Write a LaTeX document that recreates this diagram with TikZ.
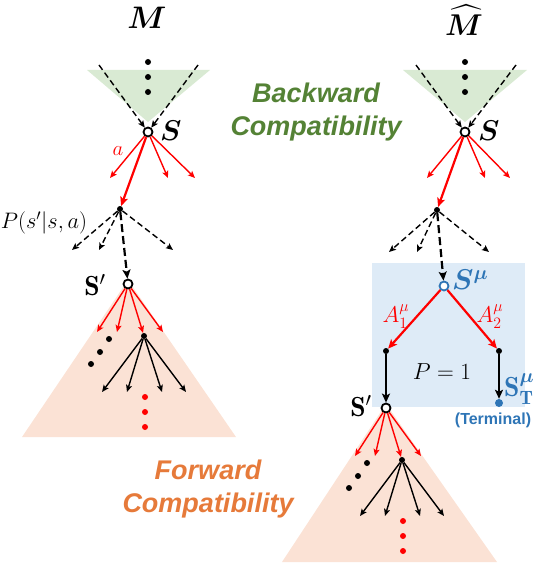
\documentclass[tikz,border=0pt]{standalone}
\usepackage{amsmath,bm}
\usepackage{fontspec}
\setsansfont{Liberation Sans}
\usetikzlibrary{arrows.meta}
\definecolor{bgreen}{RGB}{217,234,211}
\definecolor{tgreen}{RGB}{84,130,53}
\definecolor{forange}{RGB}{251,226,213}
\definecolor{torange}{RGB}{230,122,58}
\definecolor{bblue}{RGB}{222,235,247}
\definecolor{tblue}{RGB}{46,117,182}
\newcommand{\bigtxt}[1]{\scalebox{1.38}{#1}}
\newcommand{\midtxt}[2]{\scalebox{#1}{#2}}
\newcommand{\fwdtree}[1]{%
  \coordinate (#1f1) at (-31,48);
  \coordinate (#1f2) at (-11,48);
  \coordinate (#1f4) at (35,48);
  \node[bdot] (#1fd) at (16,52) {};
  \draw[ra] (#1Sp) -- (#1f1);
  \draw[ra] (#1Sp) -- (#1f2);
  \draw[ra] (#1Sp) -- (#1fd);
  \draw[ra] (#1Sp) -- (#1f4);
  \node[bdot] (#1e1) at (-19,55) {};
  \node[bdot] (#1e2) at (-28,68) {};
  \node[bdot] (#1e3) at (-37,80) {};
  \coordinate (#1g1) at (-26,108);
  \coordinate (#1g2) at (-1,108);
  \coordinate (#1g3) at (34,108);
  \coordinate (#1g4) at (58,108);
  \draw[ba] (#1fd) -- (#1g1);
  \draw[ba] (#1fd) -- (#1g2);
  \draw[ba] (#1fd) -- (#1g3);
  \draw[ba] (#1fd) -- (#1g4);
  \node[rdot] (#1r1) at (17,113) {};
  \node[rdot] (#1r2) at (17,128) {};
  \node[rdot] (#1r3) at (17,143) {};
}
\begin{document}
\begin{tikzpicture}[x=1pt,y=-1pt,
  state/.style={circle,draw=black,fill=white,line width=1.8pt,inner sep=0pt,minimum size=9pt},
  bdot/.style={circle,fill=black,inner sep=0pt,minimum size=6pt},
  rdot/.style={circle,fill=red,inner sep=0pt,minimum size=6pt},
  ra/.style={red,line width=1.4pt,-{Stealth[length=7pt,width=6pt,inset=1.5pt]}},
  rat/.style={red,line width=2.2pt,-{Stealth[length=9pt,width=8pt,inset=2pt]}},
  ba/.style={black,line width=1.4pt,-{Stealth[length=7pt,width=6pt,inset=1.5pt]}},
  bat/.style={black,line width=2.2pt,-{Stealth[length=9pt,width=8pt,inset=2pt]}},
  da/.style={black,line width=1.4pt,dash pattern=on 6pt off 3.5pt,-{Stealth[length=7pt,width=6pt,inset=1.5pt]}},
  dat/.style={black,line width=2.2pt,dash pattern=on 8pt off 4pt,-{Stealth[length=9pt,width=8pt,inset=2pt]}},
  big/.style={font=\fontsize{20}{24}\selectfont,inner sep=0pt},
  mid/.style={font=\fontsize{20}{24}\selectfont,inner sep=0pt},
  compat/.style={font=\fontsize{27}{33}\selectfont\sffamily\bfseries\itshape,align=center,inner sep=0pt}
]
\useasboundingbox (0,0) rectangle (540,564);
% backgrounds
\fill[bgreen] (87,70) -- (210,70) -- (148,122) -- cycle;
\fill[bgreen] (403,70) -- (527,70) -- (465,122) -- cycle;
\fill[bblue] (372,263) rectangle (525,407);
\fill[forange] (128,280) -- (236,437) -- (22,437) -- cycle;
\fill[forange] (386,404) -- (497,562) -- (282,562) -- cycle;

% ---------- left tree ----------
\node[big] (LM) at (147,18) {\scalebox{1.5}{$\bm{M}$}};
\node[bdot] (Lv1) at (148,62) {};
\node[bdot] (Lv2) at (148,77) {};
\node[bdot] (Lv3) at (148,92) {};
\node[state] (LS) at (148,132) {};
\node[big,anchor=west] (LSl) at (160,131) {\bigtxt{$\bm{S}$}};
\coordinate (Lt1) at (99,65);
\coordinate (Lt2) at (198,65);
\draw[da] (Lt1) -- (LS);
\draw[da] (Lt2) -- (LS);
\coordinate (La1) at (110,178);
\coordinate (La2) at (168,178);
\coordinate (La3) at (195,178);
\node[bdot] (LP) at (120,209) {};
\draw[ra] (LS) -- (La1);
\draw[ra] (LS) -- (La2);
\draw[ra] (LS) -- (La3);
\draw[rat] (LS) -- (LP);
\node[mid,text=red] (Lalab) at (118,151) {$a$};
\node[mid] (Lprob) at (44,223) {\midtxt{1.08}{$P(s'|s,a)$}};
\coordinate (Lb1) at (72,250);
\coordinate (Lb2) at (99,250);
\coordinate (Lb3) at (173,250);
\draw[da] (LP) -- (Lb1);
\draw[da] (LP) -- (Lb2);
\draw[da] (LP) -- (Lb3);
\node[state] (LSp) at (128,284) {};
\draw[dat] (LP) -- (LSp);
\node[big] (LSpl) at (95,285) {\bigtxt{$\mathbf{S}'$}};
\begin{scope}[shift={(128,284)}]
\fwdtree{L}
\end{scope}

% ---------- right tree ----------
\node[big] (RM) at (464,20) {\scalebox{1.45}{$\widehat{\bm{M}}$}};
\node[bdot] (Rv1) at (465,62) {};
\node[bdot] (Rv2) at (465,77) {};
\node[bdot] (Rv3) at (465,92) {};
\node[state] (RS) at (465,132) {};
\node[big,anchor=west] (RSl) at (478,131) {\bigtxt{$\bm{S}$}};
\coordinate (Rt1) at (416,65);
\coordinate (Rt2) at (516,65);
\draw[da] (Rt1) -- (RS);
\draw[da] (Rt2) -- (RS);
\coordinate (Ra1) at (427,178);
\coordinate (Ra2) at (485,178);
\coordinate (Ra3) at (510,178);
\node[bdot] (RP) at (437,210) {};
\draw[ra] (RS) -- (Ra1);
\draw[ra] (RS) -- (Ra2);
\draw[ra] (RS) -- (Ra3);
\draw[rat] (RS) -- (RP);
\coordinate (Rb1) at (389,252);
\coordinate (Rb2) at (417,252);
\coordinate (Rb3) at (489,252);
\draw[da] (RP) -- (Rb1);
\draw[da] (RP) -- (Rb2);
\draw[da] (RP) -- (Rb3);
\node[state,draw=tblue] (RSm) at (444,286) {};
\draw[dat] (RP) -- (RSm);
\node[big,anchor=west,text=tblue] (RSml) at (452,280) {\bigtxt{$\bm{S}^{\bm{\mu}}$}};
\node[bdot] (RA1) at (386,351) {};
\node[bdot] (RA2) at (499,351) {};
\draw[rat] (RSm) -- (RA1);
\draw[rat] (RSm) -- (RA2);
\node[mid,text=red] (RA1l) at (396,317) {\midtxt{1.1}{$A_1^{\mu}$}};
\node[mid,text=red] (RA2l) at (490,317) {\midtxt{1.1}{$A_2^{\mu}$}};
\node[mid] (RPe) at (442,372) {\midtxt{1.12}{$P=1$}};
\node[state] (RSp) at (386,408) {};
\node[circle,fill=tblue,inner sep=0pt,minimum size=8pt] (RT) at (499,403) {};
\draw[bat] (RA1) -- (RSp);
\draw[bat] (RA2) -- (RT);
\node[big,anchor=west,text=tblue] (RTl) at (504,389) {\bigtxt{$\mathbf{S}_{\mathbf{T}}^{\bm{\mu}}$}};
\node[font=\fontsize{16}{18}\selectfont\sffamily\bfseries,text=tblue,inner sep=0pt] (RTerm) at (493,420) {(Terminal)};
\node[big] (RSpl) at (361,406) {\bigtxt{$\mathbf{S}'$}};
\begin{scope}[shift={(386,408)}]
\fwdtree{R}
\end{scope}

% ---------- captions ----------
\node[compat,text=tgreen] (bc) at (316,112) {Backward\\Compatibility};
\node[compat,text=torange] (fc) at (208,489) {Forward\\Compatibility};
\end{tikzpicture}
\end{document}
